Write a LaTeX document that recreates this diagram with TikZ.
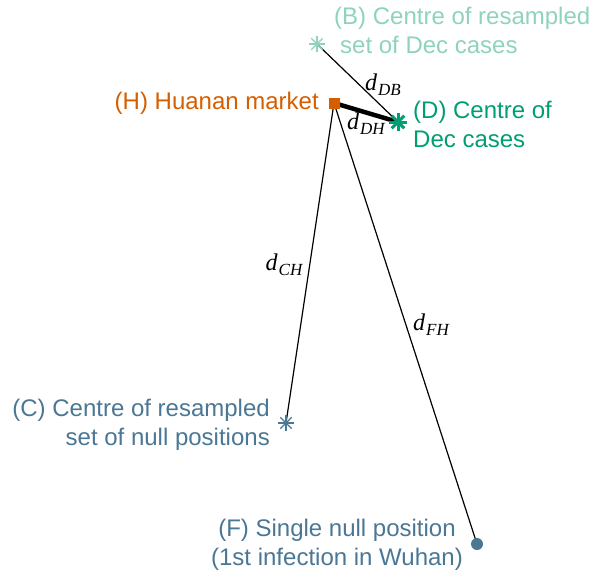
\documentclass[tikz,border=0pt]{standalone}
\usepackage{fontspec}
\setmainfont{Liberation Sans}
\newfontfamily\tmsfont{Liberation Serif}
\definecolor{horange}{HTML}{D55E00}
\definecolor{dgreen}{HTML}{009E73}
\definecolor{bgreen}{HTML}{8ED3BB}
\definecolor{cblue}{HTML}{4A7794}
\newcommand{\dlab}[1]{{\tmsfont\itshape\fontsize{24}{24}\selectfont d\kern1pt\raisebox{-5pt}{\fontsize{17}{17}\selectfont #1}}}
\tikzset{
  lbl/.style={inner sep=0pt, font=\fontsize{24}{29}\selectfont},
  dl/.style={inner sep=0pt},
  conn/.style={line width=1.2pt, black},
}
\begin{document}
\begin{tikzpicture}[x=1pt,y=-1pt]
\useasboundingbox (0,0) rectangle (592,576);
\coordinate (H) at (334,103);
\coordinate (B) at (317,44);
\coordinate (D) at (398,122);
\coordinate (C) at (286,423);
\coordinate (F) at (477,544);
% connectors
\draw[conn] (B) -- (D);
\draw[conn] (H) -- (C);
\draw[conn] (H) -- (F);
\draw[black, line width=4.5pt] (H) -- (D);
% markers
\node[fill=horange, minimum size=11pt, inner sep=0pt] (Hm) at (H) {};
\node[fill=cblue, circle, minimum size=12pt, inner sep=0pt] (Fm) at (F) {};
\foreach \a in {0,45,90,135}{
  \draw[bgreen, line width=1.3pt] (B) ++(\a:8) -- ++(\a+180:16);
  \draw[cblue, line width=1.3pt] (C) ++(\a:8) -- ++(\a+180:16);
  \draw[dgreen, line width=3pt] (D) ++(\a:9) -- ++(\a+180:18);
}
% labels
\node[lbl, text=bgreen, anchor=west, align=left] (Bl) at (334,30.5) {(B) Centre of resampled\\\hspace*{6pt}set of Dec cases};
\node[lbl, text=horange, anchor=east] (Hl) at (319,103) {(H) Huanan market};
\node[lbl, text=dgreen, anchor=west, align=left] (Dl) at (413,124) {(D) Centre of\\Dec cases};
\node[lbl, text=cblue, anchor=east, align=right] (Cl) at (270,424.5) {(C) Centre of resampled\\set of null positions};
\node[lbl, text=cblue, anchor=center, align=center] (Fl) at (337,544.5) {(F) Single null position\\(1st infection in Wuhan)};
% distance labels
\node[dl] (ldb) at (383,85) {\dlab{DB}};
\node[dl] (ldh) at (366,124) {\dlab{DH}};
\node[dl] (lch) at (284,265) {\dlab{CH}};
\node[dl] (lfh) at (431,325) {\dlab{FH}};
\end{tikzpicture}
\end{document}
